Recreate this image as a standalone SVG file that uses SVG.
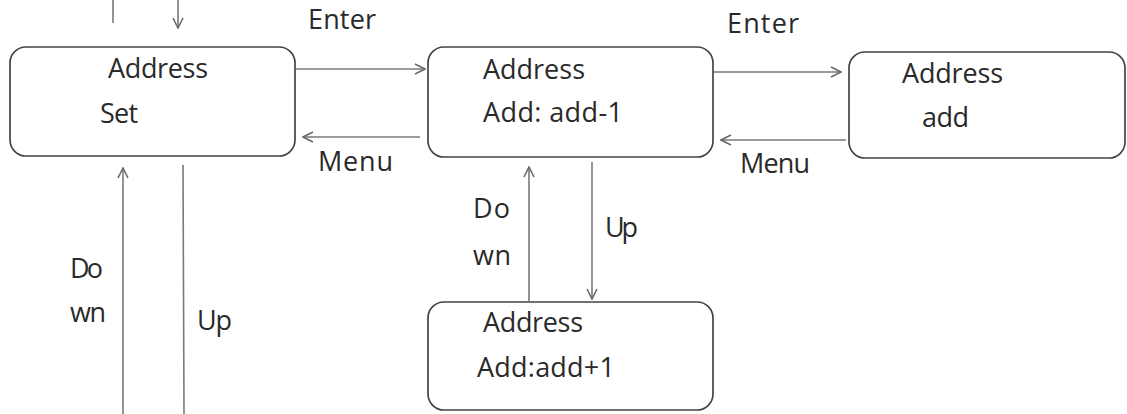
<svg xmlns="http://www.w3.org/2000/svg" width="1127" height="414" viewBox="0 0 1127 414">
<defs>
<style>
.box{fill:#fff;stroke:#444;stroke-width:1.7}
.t{font-family:"Open Sans","Noto Sans",sans-serif;font-size:27px;fill:#2a2a2a}
.c{stroke:#7a7a7a;stroke-width:1.6;fill:none}
.ca{stroke:#7a7a7a;stroke-width:1.6;fill:none;marker-end:url(#ah)}
</style>
<marker id="ah" viewBox="0 0 12 12" refX="11" refY="6" markerWidth="12" markerHeight="12" markerUnits="userSpaceOnUse" orient="auto">
<path d="M1,1 L11,6 L1,11" fill="none" stroke="#6a6a6a" stroke-width="1.6"/>
</marker>
</defs>
<rect width="1127" height="414" fill="#fff"/>
<g id="connectors">
<line class="c" x1="113" y1="0" x2="113" y2="23"/>
<line class="ca" x1="178" y1="0" x2="178" y2="28"/>
<line class="ca" x1="296" y1="69" x2="425" y2="69"/>
<line class="ca" x1="420" y1="137" x2="303" y2="137"/>
<line class="ca" x1="714" y1="72" x2="841" y2="72"/>
<line class="ca" x1="846" y1="140" x2="721" y2="140"/>
<line class="ca" x1="529" y1="301" x2="529" y2="167"/>
<line class="ca" x1="592" y1="162" x2="592" y2="299"/>
<line class="ca" x1="123" y1="414" x2="123" y2="168"/>
<line class="c" x1="183" y1="165" x2="184" y2="414"/>
<text class="t" x="308" y="29" textLength="68">Enter</text>
<text class="t" x="318" y="171" textLength="75">Menu</text>
<text class="t" x="727" y="33" textLength="72">Enter</text>
<text class="t" x="740" y="173" textLength="70">Menu</text>
<text class="t" x="473" y="218" textLength="37">Do</text>
<text class="t" x="473" y="265" textLength="38">wn</text>
<text class="t" x="605" y="237" textLength="33">Up</text>
<text class="t" x="70" y="278" textLength="33">Do</text>
<text class="t" x="70" y="322" textLength="36">wn</text>
<text class="t" x="197" y="330" textLength="35">Up</text>
</g>
<g id="node-set">
<rect class="box" x="10" y="47" width="285" height="109" rx="16"/>
<text class="t" x="108" y="78" textLength="100">Address</text>
<text class="t" x="100" y="123" textLength="38">Set</text>
</g>
<g id="node-sub">
<rect class="box" x="428" y="47" width="285" height="110" rx="16"/>
<text class="t" x="483" y="79" textLength="102">Address</text>
<text class="t" x="483" y="122" textLength="140">Add: add-1</text>
</g>
<g id="node-add">
<rect class="box" x="849" y="52" width="276" height="106" rx="16"/>
<text class="t" x="902" y="83" textLength="101">Address</text>
<text class="t" x="922" y="127" textLength="47">add</text>
</g>
<g id="node-plus">
<rect class="box" x="428" y="302" width="285" height="108" rx="16"/>
<text class="t" x="483" y="332" textLength="100">Address</text>
<text class="t" x="477" y="377" textLength="138">Add:add+1</text>
</g>
</svg>
